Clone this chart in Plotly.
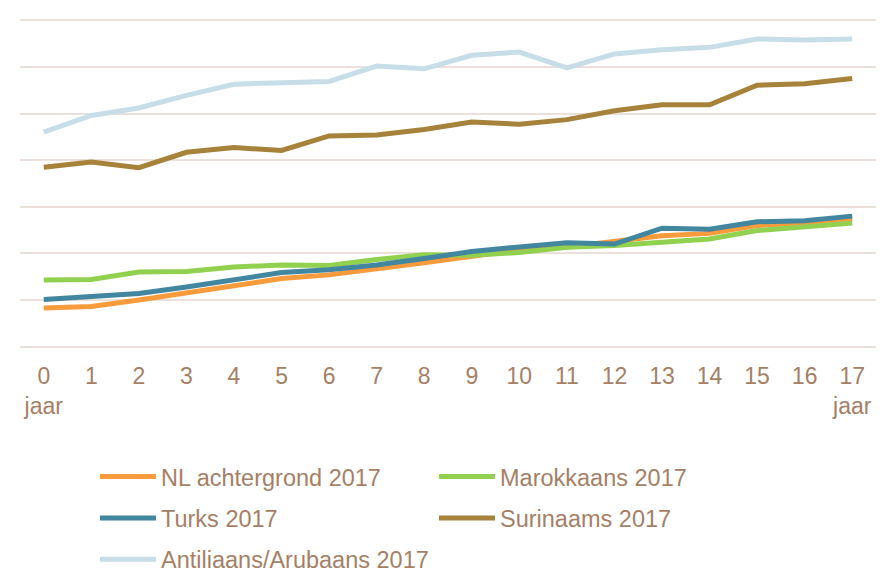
import plotly.graph_objects as go

# leeftijd in jaren
ages = list(range(18))
tick_labels = ["0<br>jaar"] + [str(a) for a in range(1, 17)] + ["17<br>jaar"]

nl_achtergrond = [8.3, 8.6, 10.0, 11.6, 13.1, 14.6, 15.4, 16.6, 18.0, 19.4,
                  20.7, 21.4, 22.5, 23.8, 24.3, 26.0, 26.5, 27.4]
marokkaans = [14.3, 14.4, 16.0, 16.1, 17.1, 17.5, 17.4, 18.7, 19.7, 19.6,
              20.2, 21.3, 21.7, 22.5, 23.1, 24.9, 25.6, 26.5]
turks = [10.1, 10.7, 11.4, 12.8, 14.4, 15.9, 16.5, 17.5, 18.9, 20.4,
         21.4, 22.3, 22.0, 25.4, 25.2, 26.8, 27.0, 28.0]
surinaams = [38.5, 39.6, 38.4, 41.7, 42.7, 42.1, 45.2, 45.4, 46.6, 48.2,
             47.7, 48.7, 50.6, 51.9, 51.9, 56.1, 56.4, 57.5]
antilliaans = [46.0, 49.6, 51.2, 53.9, 56.3, 56.5, 56.9, 60.2, 59.6, 62.5,
               63.2, 59.8, 62.8, 63.7, 64.2, 66.0, 65.8, 66.0]

# naam, waarden, kleur, legenda-rij
series = [
    ("NL achtergrond 2017", nl_achtergrond, "#F79B3C", "legend"),
    ("Marokkaans 2017", marokkaans, "#92D050", "legend"),
    ("Turks 2017", turks, "#43869F", "legend2"),
    ("Surinaams 2017", surinaams, "#A6823B", "legend2"),
    ("Antiliaans/Arubaans 2017", antilliaans, "#C7DEE8", "legend3"),
]

text_color = "#A67F67"
grid_color = "#EBE0DC"

fig = go.Figure()
for name, vals, color, leg in series:
    fig.add_trace(go.Scatter(x=ages, y=vals, name=name, mode="lines", legend=leg,
                             line=dict(color=color, width=5)))

leg_style = dict(orientation="h", x=0.0876, xanchor="left", yanchor="middle",
                 entrywidth=268, entrywidthmode="pixels", itemwidth=56,
                 traceorder="normal", bgcolor="rgba(0,0,0,0)",
                 font=dict(size=23.5, color=text_color))

# pagina heeft 8px body-marge, daarom 879x565
fig.update_layout(
    width=879, height=565,
    margin=dict(l=12, r=11, t=10, b=224, autoexpand=False),
    paper_bgcolor="white", plot_bgcolor="white",
    font=dict(family="Liberation Sans, Arial, sans-serif", size=23, color=text_color),
    showlegend=True,
    legend=dict(leg_style, y=-0.386),
    legend2=dict(leg_style, y=-0.511),
    legend3=dict(leg_style, y=-0.636),
)
fig.update_xaxes(range=[-0.5, 17.5], tickvals=ages, ticktext=tick_labels,
                 showgrid=False, zeroline=False, showline=False, ticks="",
                 ticklabelstandoff=11,
                 tickfont=dict(size=23, color=text_color))
fig.update_yaxes(range=[-0.5, 70.5], tickvals=[0, 10, 20, 30, 40, 50, 60, 70],
                 showticklabels=False, showgrid=True,
                 gridcolor=grid_color, gridwidth=1.5, zeroline=False)

fig.write_html("out.html")
